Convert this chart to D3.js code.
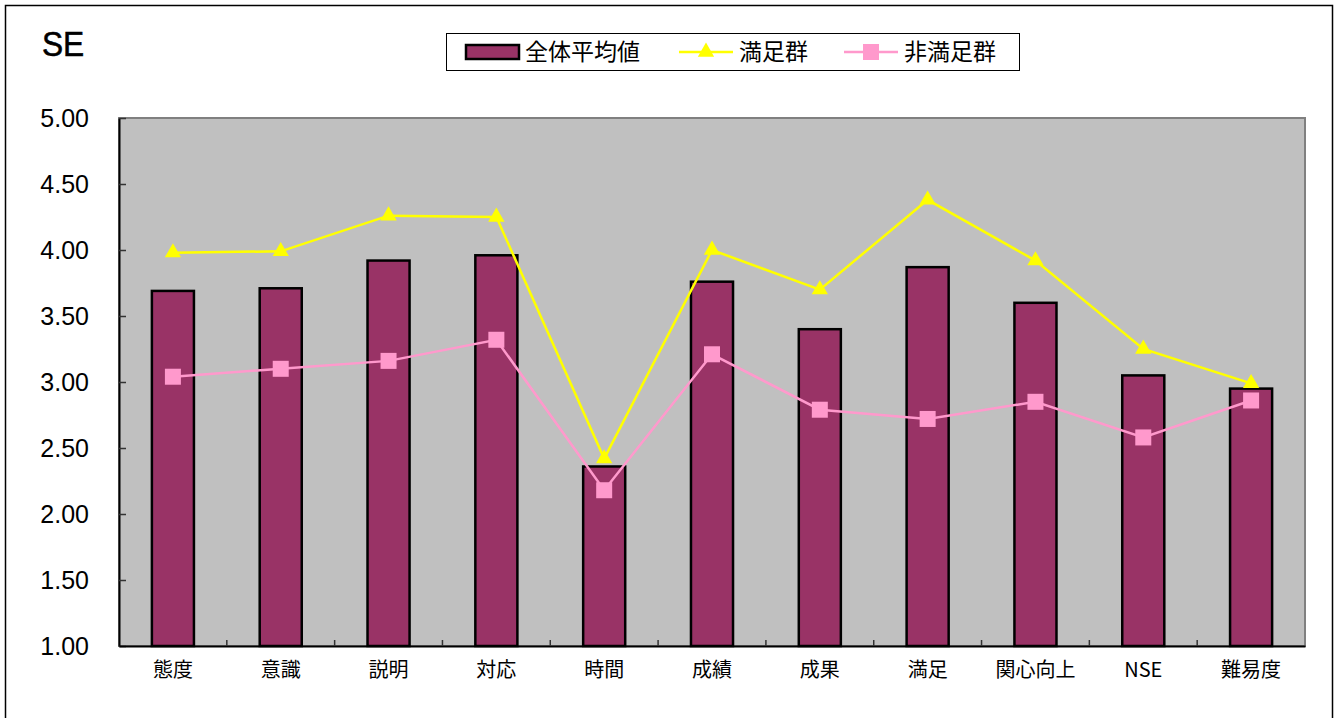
<!DOCTYPE html>
<html><head><meta charset="utf-8">
<script src="https://cdn.jsdelivr.net/npm/d3@7/dist/d3.min.js"></script>
<style>
html,body{margin:0;padding:0;background:#fff;}
svg{display:block;}
</style></head>
<body><svg id="c" width="1337" height="718"></svg>
<script>
const categories = ["態度","意識","説明","対応","時間","成績","成果","満足","関心向上","NSE","難易度"];
const overallAvg = [3.69,3.71,3.92,3.96,2.36,3.76,3.40,3.87,3.60,3.05,2.95];
const satisfied = [3.98,3.99,4.26,4.25,2.42,4.00,3.70,4.38,3.92,3.25,2.99];
const unsatisfied = [3.04,3.10,3.16,3.32,2.18,3.21,2.79,2.72,2.85,2.58,2.86];
const yTicks = [1.00,1.50,2.00,2.50,3.00,3.50,4.00,4.50,5.00];
const seriesNames = ["全体平均値","満足群","非満足群"];
const title = "SE";

const svg = d3.select("#c");
const L=119, R=1305, T=118, B=646;
const x = d3.scaleBand().domain(categories).range([L,R]).padding(0);
const y = d3.scaleLinear().domain([1,5]).range([B,T]);

// outer frame
svg.append("rect").attr("x",5.5).attr("y",5.5).attr("width",1327).attr("height",730)
  .attr("fill","#fff").attr("stroke","#000").attr("stroke-width",1.5);

// title
svg.append("text").attr("transform","translate(42,56) scale(0.88,1)").text(title)
  .attr("font-family","Liberation Sans, Arial, sans-serif").attr("font-size",36).attr("fill","#000")
  .attr("stroke","#000").attr("stroke-width",0.6);

// plot area
svg.append("rect").attr("x",L).attr("y",T).attr("width",R-L).attr("height",B-T)
  .attr("fill","#C0C0C0").attr("stroke","#808080").attr("stroke-width",2);

// y axis
const yAxis = svg.append("g").attr("transform",`translate(${L},0)`)
  .call(d3.axisLeft(y).tickValues(yTicks).tickFormat(d3.format(".2f")).tickSizeInner(-7).tickSizeOuter(0).tickPadding(30));
yAxis.select(".domain").attr("stroke","#000").attr("stroke-width",2);
yAxis.selectAll(".tick line").attr("stroke","#333").attr("stroke-width",1.5);
yAxis.selectAll(".tick text").attr("font-family","Liberation Sans, Arial, sans-serif").attr("font-size",25).attr("fill","#000");

// x axis
const xAxis = svg.append("g").attr("transform",`translate(0,${B})`)
  .call(d3.axisBottom(x).tickSize(0).tickPadding(17));
xAxis.select(".domain").attr("stroke","#000").attr("stroke-width",2);
xAxis.selectAll(".tick text").attr("font-family","Noto Sans CJK JP, sans-serif").attr("font-size",20).attr("fill","#000");
// boundary ticks (between categories)
svg.append("g").selectAll("line").data(categories.slice(1)).join("line")
  .attr("x1",d=>x(d)).attr("x2",d=>x(d)).attr("y1",B).attr("y2",B-6)
  .attr("stroke","#333").attr("stroke-width",1.5);

// bars
const bw = x.bandwidth()*0.39;
svg.append("g").selectAll("rect").data(overallAvg).join("rect")
  .attr("x",(d,i)=>x(categories[i])+x.bandwidth()/2-bw/2)
  .attr("y",d=>y(d)).attr("width",bw).attr("height",d=>B-y(d))
  .attr("fill","#993366").attr("stroke","#000").attr("stroke-width",2.5);

const cx = i => x(categories[i])+x.bandwidth()/2;
const line = d3.line().x((d,i)=>cx(i)).y(d=>y(d));

// satisfied
svg.append("path").datum(satisfied).attr("d",line).attr("fill","none").attr("stroke","#FFFF00").attr("stroke-width",2.5);
const tri = d3.symbol().type(d3.symbolTriangle).size(115);
svg.append("g").selectAll("path").data(satisfied).join("path")
  .attr("d",tri).attr("transform",(d,i)=>`translate(${cx(i)},${y(d)})`).attr("fill","#FFFF00");

// unsatisfied
svg.append("path").datum(unsatisfied).attr("d",line).attr("fill","none").attr("stroke","#FF99CC").attr("stroke-width",2.5);
svg.append("g").selectAll("rect").data(unsatisfied).join("rect")
  .attr("x",(d,i)=>cx(i)-8).attr("y",d=>y(d)-8).attr("width",16).attr("height",16).attr("fill","#FF99CC");

// legend
const lg = svg.append("g");
lg.append("rect").attr("x",446.5).attr("y",33.5).attr("width",573).attr("height",37)
  .attr("fill","#fff").attr("stroke","#000").attr("stroke-width",1);
lg.append("rect").attr("x",466).attr("y",45).attr("width",53).attr("height",14)
  .attr("fill","#993366").attr("stroke","#000").attr("stroke-width",2.5);
lg.append("line").attr("x1",679).attr("x2",733).attr("y1",52).attr("y2",52).attr("stroke","#FFFF00").attr("stroke-width",2.5);
lg.append("path").attr("d",tri).attr("transform","translate(706,52)").attr("fill","#FFFF00");
lg.append("line").attr("x1",844).attr("x2",898).attr("y1",52).attr("y2",52).attr("stroke","#FF99CC").attr("stroke-width",2.5);
lg.append("rect").attr("x",863).attr("y",44).attr("width",16).attr("height",16).attr("fill","#FF99CC");
const lx = [525,739,904];
lg.selectAll("text.lt").data(seriesNames).join("text").attr("class","lt")
  .attr("x",(d,i)=>lx[i]).attr("y",52).attr("dy","0.36em").text(d=>d)
  .attr("font-family","Noto Sans CJK JP, sans-serif").attr("font-size",23).attr("fill","#000");
</script></body></html>
